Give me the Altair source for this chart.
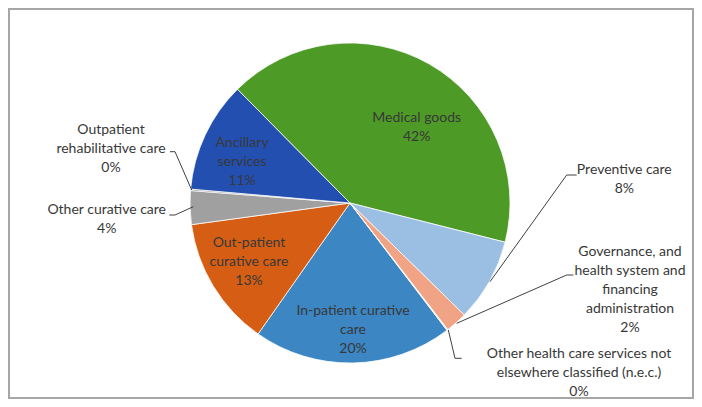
import math
import altair as alt
import pandas as pd

# ---------------- data ----------------
categories = [
    "In-patient curative care",
    "Out-patient curative care",
    "Other curative care",
    "Outpatient rehabilitative care",
    "Ancillary services",
    "Medical goods",
    "Preventive care",
    "Governance, and health system and financing administration",
    "Other health care services not elsewhere classified (n.e.c.)",
]
shares = [20.1, 13.1, 3.4, 0.15, 11.2, 41.35, 8.4, 2.2, 0.1]
pct_labels = ["20%", "13%", "4%", "0%", "11%", "42%", "8%", "2%", "0%"]
label_lines = [
    ["In-patient curative", "care"],
    ["Out-patient", "curative care"],
    ["Other curative care"],
    ["Outpatient", "rehabilitative care"],
    ["Ancillary", "services"],
    ["Medical goods"],
    ["Preventive care"],
    ["Governance, and", "health system and", "financing", "administration"],
    ["Other health care services not", "elsewhere classified (n.e.c.)"],
]
colors = ["#3B86C3", "#D55E14", "#A0A0A0", "#8E8E8E", "#2350B0",
          "#4E9A27", "#9BBFE2", "#F1A386", "#E0E0E0"]

# ---------------- layout (not data) ----------------
W, H = 686, 391
CX, CY, R = 342, 195, 160
START_DEG = 142.7
# centre of the first line of each label block
label_pos = [
    (345, 302.7), (241, 235.3), (98.7, 202), (103, 122), (234, 134.7),
    (408.7, 110.3), (616.3, 162), (622, 243.7), (571, 346),
]
leaders = {
    3: [(162, 143.7), (167, 143.7), (183.7, 182)],
    2: [(161.3, 207), (167, 207), (185.3, 198.7)],
    6: [(568.7, 167), (558.7, 167), (482, 273.7)],
    7: [(565.3, 267), (558.7, 267), (448.7, 315.3)],
    8: [(453.7, 350.3), (447, 350.3), (440.3, 322)],
}

pie_df = pd.DataFrame({"category": categories, "share": shares,
                       "idx": list(range(len(categories)))})

lab_df = pd.DataFrame({
    "category": categories,
    "text": ["\n".join(l + [p]) for l, p in zip(label_lines, pct_labels)],
    "x": [p[0] for p in label_pos],
    "y": [p[1] for p in label_pos],
})

rows = []
for k, pts in leaders.items():
    for j, (x, y) in enumerate(pts):
        rows.append({"leader": categories[k], "ord": j, "x": x, "y": y})
lead_df = pd.DataFrame(rows)

xs = alt.Scale(domain=[0, W], range=[0, W], zero=False, nice=False)
ys = alt.Scale(domain=[0, H], range=[0, H], zero=False, nice=False)

start = math.radians(START_DEG)
pie = alt.Chart(pie_df).mark_arc(outerRadius=R, stroke="#ffffff", strokeWidth=0.75).encode(
    theta=alt.Theta("share:Q", stack=True,
                    scale=alt.Scale(range=[start, start + 2 * math.pi])),
    order=alt.Order("idx:Q", sort="ascending"),
    color=alt.Color("category:N", scale=alt.Scale(domain=categories, range=colors), legend=None),
    x=alt.value(CX),
    y=alt.value(CY),
)

lines = alt.Chart(lead_df).mark_line(color="#404040", strokeWidth=1).encode(
    x=alt.X("x:Q", scale=xs, axis=None),
    y=alt.Y("y:Q", scale=ys, axis=None),
    detail="leader:N",
    order="ord:Q",
)

labels = alt.Chart(lab_df).mark_text(
    font="Lato", fontSize=14, color="#383838", lineBreak="\n", lineHeight=19,
    align="center", baseline="middle",
).encode(
    x=alt.X("x:Q", scale=xs, axis=None),
    y=alt.Y("y:Q", scale=ys, axis=None),
    text="text:N",
)

border = alt.Chart(pie_df).mark_rect(fill=None, stroke="#A6A6A6", strokeWidth=1.5).encode(
    x=alt.value(0.75), x2=alt.value(W - 0.75), y=alt.value(0.75), y2=alt.value(H - 0.75)
)

chart = alt.layer(pie, lines, labels, border).properties(
    width=W, height=H, padding=0, autosize=alt.AutoSizeParams(type="none"),
    background="#ffffff",
).configure_view(stroke=None)

chart.save("out.html", embed_options={"renderer": "svg", "actions": False})
